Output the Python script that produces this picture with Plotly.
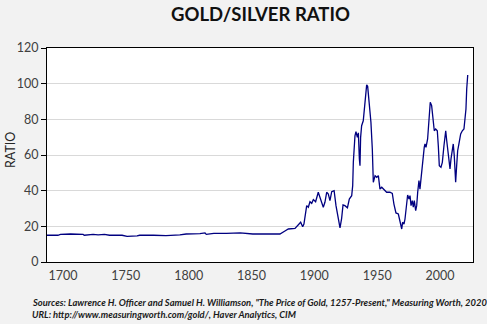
import plotly.graph_objects as go

years = [1687, 1696, 1698, 1706, 1716, 1717, 1724, 1728, 1733, 1737, 1747, 1751, 1759, 1761,
         1772, 1782, 1793, 1798, 1809, 1813, 1814, 1820, 1830, 1841, 1851, 1867, 1872.6,
         1876.6, 1879.3, 1884.6, 1887.2, 1889.1, 1890.7, 1891.7, 1893.9, 1895.2, 1896.5,
         1897.9, 1899.2, 1901.0, 1903.1, 1904.5, 1905.8, 1907.1, 1908.4, 1909.8, 1911.1,
         1912.4, 1913.8, 1915.7, 1917.2, 1918.8, 1920.4, 1921.7, 1922.8, 1924.3, 1926.3,
         1927.8, 1929.7, 1930.5, 1931.0, 1932.3, 1933.1, 1934.2, 1935.0, 1935.8, 1936.3,
         1936.8, 1937.6, 1938.9, 1939.7, 1941.1, 1941.6, 1942.4, 1943.7, 1945.0, 1946.1,
         1946.9, 1948.3, 1949.6, 1950.9, 1952.2, 1953.6, 1955.4, 1957.5, 1960.1, 1962.0,
         1963.3, 1964.9, 1966.8, 1968.1, 1969.5, 1970.2, 1971.3, 1972.1, 1973.4, 1974.2,
         1975.3, 1976.1, 1976.9, 1977.9, 1978.7, 1979.5, 1980.6, 1981.4, 1982.2, 1983.2,
         1984.0, 1984.8, 1985.8, 1986.6, 1987.4, 1988.0, 1988.8, 1990.1, 1991.2, 1992.2,
         1993.3, 1994.6, 1995.4, 1996.5, 1997.8, 1998.6, 1999.4, 2000.7, 2001.8, 2003.1,
         2004.5, 2005.3, 2006.1, 2007.1, 2007.9, 2008.7, 2009.7, 2010.5, 2011.3, 2011.9,
         2012.4, 2013.2, 2014.0, 2015.0, 2016.4, 2017.7, 2019.0, 2019.8, 2020.6, 2021.2,
         2022.0]

ratio = [15.0, 15.0, 15.5, 15.7, 15.5, 15.0, 15.5, 15.2, 15.5, 15.0, 15.0, 14.4, 14.6, 15.0,
         15.0, 14.8, 15.2, 15.7, 15.9, 16.3, 15.5, 16.1, 16.1, 16.3, 15.7, 15.7, 15.7,
         17.4, 18.5, 18.8, 20.7, 22.3, 19.8, 21.3, 31.6, 30.7, 33.8,
         32.9, 35.0, 33.8, 39.1, 36.3, 34.4, 30.7, 33.5, 39.1, 38.1,
         34.4, 39.4, 40.0, 31.6, 24.5, 19.1, 24.5, 32.0, 31.6, 30.4,
         35.3, 37.2, 42.8, 55.9, 70.8, 73.1, 69.9, 72.4, 57.8, 54.0,
         69.9, 76.4, 79.2, 85.8, 95.2, 99.3, 98.5, 89.6, 78.4, 63.4,
         44.7, 48.4, 47.5, 48.4, 40.9, 41.9, 40.5, 39.1, 39.1, 38.5,
         32.5, 27.5, 26.9, 22.3, 18.5, 22.3, 21.3, 24.1, 34.4, 37.6,
         35.3, 37.2, 31.6, 34.4, 30.7, 34.4, 28.8, 31.6, 39.1, 45.6,
         40.9, 47.5, 52.2, 57.8, 64.3, 66.2, 64.3, 69.0, 78.4, 89.6,
         87.7, 80.2, 73.6, 74.6, 73.6, 65.2, 54.0, 53.1, 55.9, 65.2,
         73.6, 68.0, 62.4, 54.0, 52.2, 57.8, 62.4, 66.2, 59.6, 51.2,
         44.7, 54.0, 62.4, 66.2, 71.8, 73.6, 74.6, 80.2, 85.8, 97.0,
         104.9]

x_ticks = [1700, 1750, 1800, 1850, 1900, 1950, 2000]
y_ticks = [0, 20, 40, 60, 80, 100, 120]

title_text = "GOLD/SILVER RATIO"
y_title = "RATIO"
source_1 = 'Sources: Lawrence H. Officer and Samuel H. Williamson, "The Price of Gold, 1257-Present," Measuring Worth, 2020'
source_2 = "URL: http://www.measuringworth.com/gold/, Haver Analytics, CIM"

FONT = "Lato"
TXT = "#404040"

fig = go.Figure()
fig.add_trace(go.Scatter(x=years, y=ratio, mode="lines",
                         line=dict(color="#000080", width=1.3),
                         showlegend=False, hoverinfo="skip"))

fig.update_layout(
    width=487, height=324,
    margin=dict(l=47, r=14, t=48, b=62),
    paper_bgcolor="#f2f2f2",
    plot_bgcolor="white",
    font=dict(family=FONT, size=12, color=TXT),
    xaxis=dict(range=[1687.3, 2026.2], tickvals=x_ticks, ticks="", showgrid=False,
               showline=True, linecolor="black", linewidth=1, mirror=True,
               zeroline=False, tickfont=dict(size=12.5, color=TXT), ticklabelstandoff=2),
    yaxis=dict(range=[0, 120], tickvals=y_ticks, ticks="outside", ticklen=5,
               tickcolor="black", showgrid=True, gridcolor="#d9d9d9", gridwidth=1,
               showline=True, linecolor="black", linewidth=1, mirror=True,
               zeroline=False, tickfont=dict(size=12.5, color=TXT)),
    annotations=[
        dict(text="<b>" + title_text + "</b>", xref="paper", yref="paper",
             x=0.5, y=1 + (48 - 14) / 214, xanchor="center", yanchor="middle",
             showarrow=False, font=dict(family=FONT, size=18.5, color="#111111")),
        dict(text=y_title, xref="paper", yref="paper", textangle=-90,
             x=(10 - 47) / 426, y=(262 - 150) / 214, xanchor="center", yanchor="middle",
             showarrow=False, font=dict(family=FONT, size=12.5, color="#262626")),
        dict(text="<b><i>" + source_1 + "</i></b>", xref="paper", yref="paper",
             x=(30 - 47) / 426, y=(262 - 302) / 214, xanchor="left", yanchor="middle",
             showarrow=False, font=dict(family=FONT, size=9.4, color="#1a1a1a")),
        dict(text="<b><i>" + source_2 + "</i></b>", xref="paper", yref="paper",
             x=(30 - 47) / 426, y=(262 - 314) / 214, xanchor="left", yanchor="middle",
             showarrow=False, font=dict(family=FONT, size=9.4, color="#1a1a1a")),
    ],
)

fig.write_html("out.html")
